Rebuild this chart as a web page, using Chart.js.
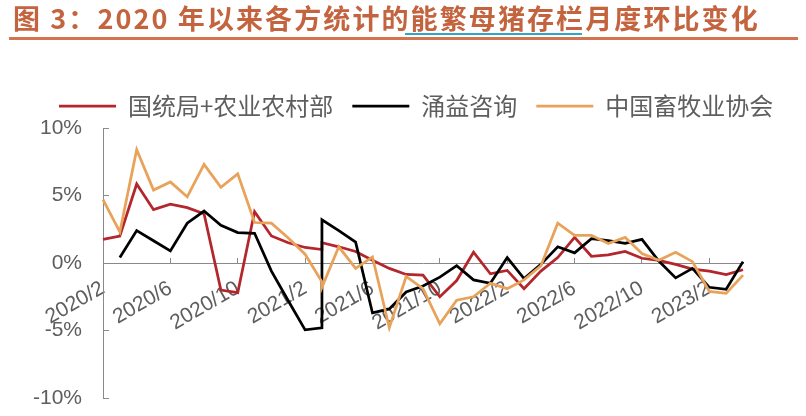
<!DOCTYPE html>
<html lang="zh-CN">
<head>
<meta charset="utf-8">
<title>能繁母猪存栏月度环比变化</title>
<script src="https://cdn.jsdelivr.net/npm/chart.js@4.4.1/dist/chart.umd.min.js"></script>
<style>
  html, body { margin: 0; padding: 0; background: #fff; }
  #wrap { position: relative; width: 806px; height: 416px; overflow: hidden; }
  #title {
    position: absolute; left: 13px; top: 4px; z-index: 2;
    font: 700 27px/27px "Noto Sans CJK SC", sans-serif;
    letter-spacing: 2.1px; color: #C3643F; white-space: nowrap;
  }
  #title-mark { position: absolute; left: 405px; top: 33px; width: 177px; height: 2px; background: #2BA8C8; z-index: 3; }
  #title-rule { position: absolute; left: 9px; top: 37px; width: 789px; height: 3px; background: #D2744F; }
  #chart { position: absolute; left: 0; top: 0; }
</style>
</head>
<body>
<div id="wrap">
  <div id="title">图 3：2020 年以来各方统计的能繁母猪存栏月度环比变化</div>
  <div id="title-mark"></div>
  <div id="title-rule"></div>
  <canvas id="chart" width="806" height="416"></canvas>
</div>
<script>
// 每行一个数据点（2021/3 有两行，源图中该月出现竖直跳变）
const rowMonths = [
  '2020/2', '2020/3', '2020/4', '2020/5', '2020/6', '2020/7', '2020/8', '2020/9', '2020/10', '2020/11', '2020/12',
  '2021/1', '2021/2', '2021/3', '2021/3', '2021/4', '2021/5', '2021/6', '2021/7', '2021/8', '2021/9', '2021/10', '2021/11', '2021/12',
  '2022/1', '2022/2', '2022/3', '2022/4', '2022/5', '2022/6', '2022/7', '2022/8', '2022/9', '2022/10', '2022/11', '2022/12',
  '2023/1', '2023/2', '2023/3', '2023/4'
];

// 国统局+农业农村部（%）
const nbsMoa = [
  1.75, 2.0, 5.85, 3.95, 4.35, 4.1, 3.65, -2.0, -2.2, 3.8, 2.0,
  1.5, 1.15, 1.0, 1.5, 1.2, 0.85, 0.2, -0.4, -0.85, -0.9, -2.5, -1.3, 0.8,
  -0.8, -0.55, -1.9, -0.6, 0.4, 1.9, 0.5, 0.6, 0.85, 0.35, 0.2, -0.1,
  -0.45, -0.6, -0.85, -0.5
];

// 涌益咨询（%）
const yongyi = [
  null, 0.4, 2.4, 1.65, 0.9, 2.95, 3.85, 2.8, 2.25, 2.2, -0.6,
  -2.8, -4.95, -4.8, 3.2, 2.4, 1.55, -3.7, -3.4, -2.15, -1.7, -1.05, -0.2, -1.25,
  -1.5, 0.4, -1.15, -0.1, 1.2, 0.75, 1.8, 1.65, 1.45, 1.75, 0.15, -1.1,
  -0.4, -1.8, -1.95, 0.1
];

// 中国畜牧业协会（%）
const caaa = [
  4.7, 2.3, 8.4, 5.4, 6.0, 4.9, 7.3, 5.6, 6.6, 3.0, 2.95,
  1.85, 0.65, -1.4, -1.8, 1.2, -0.4, 0.45, -4.8, -1.0, -1.9, -4.5, -2.75, -2.5,
  -1.5, -1.9, -1.25, -0.2, 2.95, 2.05, 2.05, 1.45, 1.9, 0.7, 0.2, 0.8,
  0.1, -2.1, -2.25, -0.9
];

// 横轴上显示的月份
const tickMonths = ['2020/2', '2020/6', '2020/10', '2021/2', '2021/6', '2021/10', '2022/2', '2022/6', '2022/10', '2023/2'];

const seriesNames = ['国统局+农业农村部', '涌益咨询', '中国畜牧业协会'];
const seriesColors = ['#B3262C', '#000000', '#E9A259'];

const monthLabels = [...new Set(rowMonths)];
const axisGray = '#8A8A8A';
const textGray = '#5E5E5E';
const plotTop = 128; // 绘图区顶边，图例下方留出间隔

const toPoints = vals => rowMonths.map((m, k) => ({ x: m, y: vals[k] }));

// 图例整体右移一点，和纵轴标签区分开
const legendShift = {
  id: 'legendShift',
  afterLayout(chart) {
    chart.legend.left += 10;
    chart.legend.right += 10;
  }
};

new Chart(document.getElementById('chart'), {
  type: 'line',
  data: {
    labels: monthLabels,
    datasets: [nbsMoa, yongyi, caaa].map((vals, k) => ({
      label: seriesNames[k],
      data: toPoints(vals),
      borderColor: seriesColors[k],
      backgroundColor: seriesColors[k],
      borderWidth: 2.75,
      pointRadius: 0,
      tension: 0,
      yAxisID: 'y',
      order: 2 - k  // 后面的序列画在上层
    }))
  },
  plugins: [legendShift],
  options: {
    responsive: false,
    animation: false,
    layout: { padding: { left: 30, right: 0, top: 66, bottom: 18 } },
    plugins: {
      legend: {
        position: 'top',
        align: 'start',
        labels: {
          usePointStyle: true,
          pointStyle: 'line',
          pointStyleWidth: 57,
          padding: 19,
          color: textGray,
          font: { family: '"Noto Sans CJK SC"', size: 24 },
          sort: (a, b) => a.datasetIndex - b.datasetIndex
        }
      },
      tooltip: { enabled: false }
    },
    scales: {
      x: {
        type: 'category',
        position: { y: 0 },
        offset: false,
        grid: {
          drawOnChartArea: false,
          tickLength: -6,
          color: ctx => tickMonths.includes(monthLabels[ctx.index]) ? axisGray : 'rgba(0,0,0,0)'
        },
        border: { color: axisGray, width: 1 },
        ticks: {
          autoSkip: false,
          minRotation: 30,
          maxRotation: 30,
          padding: 19,
          color: textGray,
          font: { family: '"Liberation Sans", Arial', size: 21 },
          callback: (v, i) => tickMonths.includes(monthLabels[i]) ? monthLabels[i] : ''
        },
        afterFit: s => { s.height = 0; }
      },
      y: {
        min: -10,
        max: 10,
        grid: { drawOnChartArea: false, tickLength: -6, color: axisGray },
        border: { color: axisGray, width: 1 },
        ticks: {
          stepSize: 5,
          padding: 27,
          color: textGray,
          font: { family: '"Liberation Sans", Arial', size: 21 },
          callback: v => v + '%'
        },
        afterFit: s => { s.width = 73; s.paddingTop = plotTop; s.paddingBottom = 0; }
      },
      // 右侧留白（不显示任何内容）
      gap: {
        type: 'linear',
        position: 'right',
        grid: { display: false },
        border: { display: false },
        ticks: { display: false },
        afterFit: s => { s.width = 63; s.paddingTop = 0; s.paddingBottom = 0; }
      }
    }
  }
});
</script>
</body>
</html>
